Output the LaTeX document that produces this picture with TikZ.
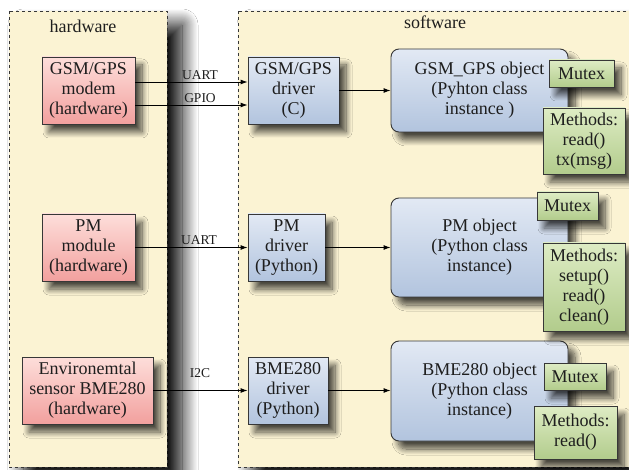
\documentclass[tikz,border=0pt]{standalone}
\usepackage{fontspec}
\setmainfont{Liberation Serif}
\usetikzlibrary{shadows.blur,arrows.meta}

\definecolor{panelfill}{RGB}{251,243,211}
\definecolor{edge}{RGB}{55,55,55}
\definecolor{ink}{RGB}{30,30,30}
\definecolor{pinktop}{RGB}{253,222,218}
\definecolor{pinkbot}{RGB}{242,160,158}
\definecolor{bluetop}{RGB}{226,233,244}
\definecolor{bluebot}{RGB}{178,196,222}
\definecolor{greentop}{RGB}{222,236,196}
\definecolor{greenbot}{RGB}{178,204,140}

\tikzset{
  boxshadow/.style={blur shadow={shadow xshift=7pt,shadow yshift=-8pt,
      shadow blur radius=6pt,shadow opacity=70,shadow blur steps=12}},
  panel/.style={draw=edge,dashed,line width=0.8pt,fill=panelfill,
      blur shadow={shadow xshift=15pt,shadow yshift=-14pt,
      shadow blur radius=16pt,shadow opacity=100,shadow blur steps=30}},
  base/.style={draw=edge,line width=0.9pt,text=ink,align=center,
      inner sep=1pt,font=\fontsize{18}{20}\selectfont,boxshadow},
  hwbox/.style={base,top color=pinktop,bottom color=pinkbot},
  drvbox/.style={base,top color=bluetop,bottom color=bluebot},
  objbox/.style={base,rounded corners=8pt,top color=bluetop,bottom color=bluebot},
  attrbox/.style={base,top color=greentop,bottom color=greenbot},
  link/.style={draw=black,line width=0.9pt,-{Latex[length=7pt,width=5pt]}},
  buslabel/.style={text=ink,font=\fontsize{13.5}{15}\selectfont,inner sep=1pt},
  paneltitle/.style={text=ink,font=\fontsize{18}{20}\selectfont,inner sep=0pt}
}

\begin{document}
\begin{tikzpicture}[x=1pt,y=-1pt]
\useasboundingbox[fill=white] (0,0) rectangle (629,470);

% panels
\draw[panel] (238,11) rectangle (660,467);
\draw[panel] (9,11) rectangle (167,467);
\node[paneltitle] (hwtitle) at (83,26) {hardware};
\node[paneltitle] (swtitle) at (435,22) {software};

% hardware units
\node[hwbox,minimum width=93pt,minimum height=67pt] (modem) at (88.5,90.5)
  {GSM/GPS\\modem\\(hardware)};
\node[hwbox,minimum width=93pt,minimum height=67pt] (pmmod) at (88.5,247.5)
  {PM\\module\\(hardware)};
\node[hwbox,minimum width=131pt,minimum height=67pt] (envsens) at (87.5,390.5)
  {Environemtal\\sensor BME280\\(hardware)};

% drivers
\node[drvbox,minimum width=91pt,minimum height=67pt] (gdrv) at (293.5,90.5)
  {GSM/GPS\\driver\\(C)};
\node[drvbox,minimum width=77pt,minimum height=67pt] (pdrv) at (286.5,247.5)
  {PM\\driver\\(Python)};
\node[drvbox,minimum width=80pt,minimum height=67pt] (bdrv) at (288,390.5)
  {BME280\\driver\\(Python)};

% objects
\node[objbox,minimum width=177pt,minimum height=83pt] (gobj) at (479.5,90.5)
  {GSM\_GPS object\\(Pyhton class\\instance )};
\node[objbox,minimum width=177pt,minimum height=99pt] (pobj) at (479.5,247.5)
  {PM object\\(Python class\\instance)};
\node[objbox,minimum width=177pt,minimum height=100pt] (bobj) at (479.5,391)
  {BME280 object\\(Python class\\instance)};

% mutexes and methods
\node[attrbox,minimum width=65pt,minimum height=27pt] (gmutex) at (581.5,73.5) {Mutex};
\node[attrbox,minimum width=82pt,minimum height=66pt] (gmeth) at (584,141)
  {Methods:\\read()\\tx(msg)};
\node[attrbox,minimum width=61pt,minimum height=28pt] (pmutex) at (567.5,206) {Mutex};
\node[attrbox,minimum width=82pt,minimum height=88pt] (pmeth) at (584,287)
  {Methods:\\setup()\\read()\\clean()};
\node[attrbox,minimum width=62pt,minimum height=27pt] (bmutex) at (575,376.5) {Mutex};
\node[attrbox,minimum width=83pt,minimum height=53pt] (bmeth) at (575.5,432.5)
  {Methods:\\read()};

% bus levels
\coordinate (uartA) at (0,82);
\coordinate (gpio) at (0,105);

% hardware to drivers
\draw[link] (modem.east |- uartA) -- (gdrv.west |- uartA);
\draw[link] (modem.east |- gpio) -- (gdrv.west |- gpio);
\draw[link] (pmmod.east) -- (pdrv.west);
\draw[link] (envsens.east |- bdrv.west) -- (bdrv.west);
\node[buslabel] (luart1) at (200,75) {UART};
\node[buslabel] (lgpio) at (200,98) {GPIO};
\node[buslabel] (luart2) at (199,240) {UART};
\node[buslabel] (li2c) at (200,373) {I2C};

% drivers to objects
\draw[link] (gdrv.east) -- (gobj.west |- gdrv.east);
\draw[link] (pdrv.east) -- (pobj.west |- pdrv.east);
\draw[link] (bdrv.east) -- (bobj.west |- bdrv.east);
\end{tikzpicture}
\end{document}
